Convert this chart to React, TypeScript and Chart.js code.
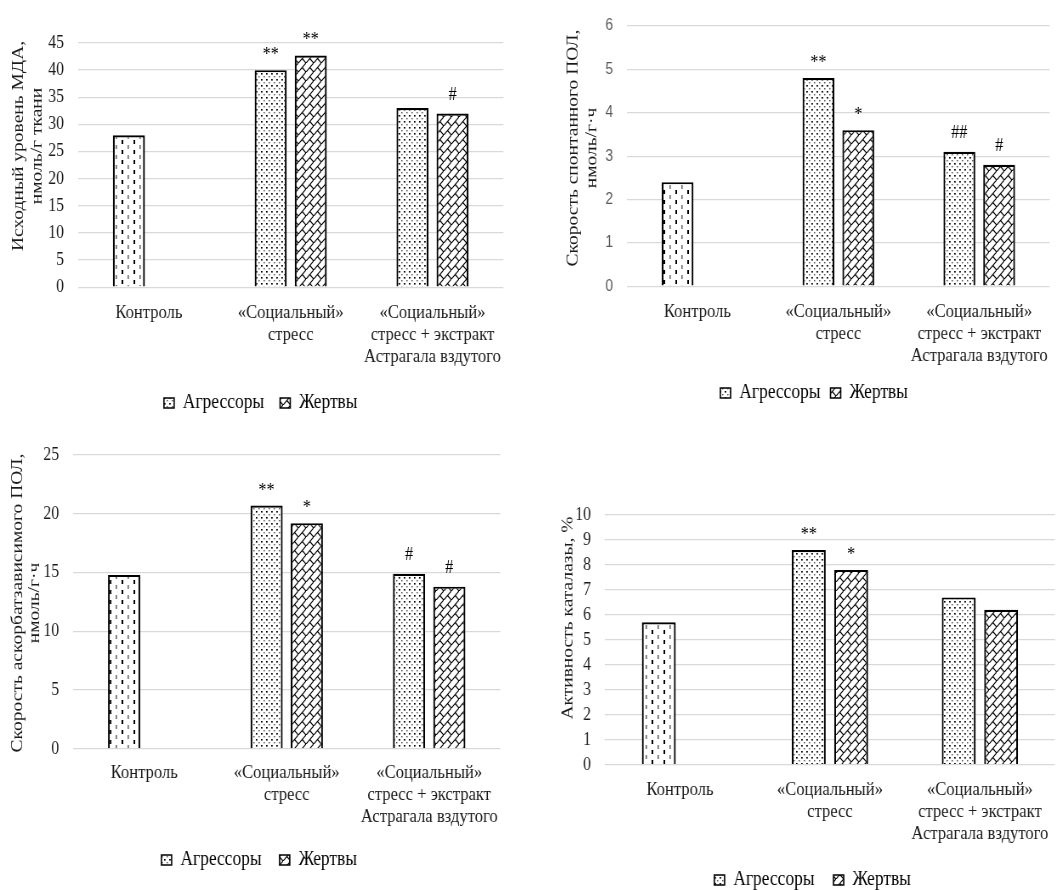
import React, { useEffect, useRef } from "react";
import { Chart, registerables } from "chart.js";

Chart.register(...registerables);

// ---------- DATA ----------
const categories: string[][] = [
  ["Контроль"],
  ["«Социальный»", "стресс"],
  ["«Социальный»", "стресс + экстракт", "Астрагала вздутого"],
];
const seriesNames = ["Агрессоры", "Жертвы"];

// Panel 1: initial MDA level
const mdaTitle = ["Исходный уровень МДА,", "нмоль/г ткани"];
const mdaAggressors = [28, 40, 33];
const mdaVictims = [null, 42.7, 32];
const mdaMarksAggressors = ["", "**", ""];
const mdaMarksVictims = ["", "**", "#"];
const mdaTicks = { max: 45, step: 5 };

// Panel 2: spontaneous LPO rate
const sponTitle = ["Скорость спонтанного ПОЛ,", "нмоль/г·ч"];
const sponAggressors = [2.4, 4.8, 3.1];
const sponVictims = [null, 3.6, 2.8];
const sponMarksAggressors = ["", "**", "##"];
const sponMarksVictims = ["", "*", "#"];
const sponTicks = { max: 6, step: 1 };

// Panel 3: ascorbate-dependent LPO rate
const ascTitle = ["Скорость аскорбатзависимого ПОЛ,", "нмоль/г·ч"];
const ascAggressors = [14.8, 20.7, 14.9];
const ascVictims = [null, 19.2, 13.8];
const ascMarksAggressors = ["", "**", "#"];
const ascMarksVictims = ["", "*", "#"];
const ascTicks = { max: 25, step: 5 };

// Panel 4: catalase activity
const catTitle = ["Активность каталазы, %"];
const catAggressors = [5.7, 8.6, 6.7];
const catVictims = [null, 7.8, 6.2];
const catMarksAggressors = ["", "**", ""];
const catMarksVictims = ["", "*", ""];
const catTicks = { max: 10, step: 1 };

// horizontal squeeze of the original figure
const SQ = 0.85;

// ---------- PATTERNS ----------
function makeTile(w: number, h: number, draw: (c: CanvasRenderingContext2D) => void) {
  const cv = document.createElement("canvas");
  cv.width = w;
  cv.height = h;
  const c = cv.getContext("2d")!;
  c.fillStyle = "#ffffff";
  c.fillRect(0, 0, w, h);
  draw(c);
  return cv;
}

function makePatterns(ctx: CanvasRenderingContext2D) {
  const control = ctx.createPattern(
    makeTile(14, 10, (c) => {
      c.fillStyle = "#000000";
      c.fillRect(3, 0, 2, 4);
      c.fillStyle = "#6a6a6a";
      c.fillRect(10, 5, 1.6, 4);
    }),
    "repeat"
  )!;
  const dots = ctx.createPattern(
    makeTile(6, 6, (c) => {
      c.fillStyle = "#000000";
      c.fillRect(1, 1, 1.8, 1.6);
      c.fillStyle = "#555555";
      c.fillRect(4, 4, 1.5, 1.4);
    }),
    "repeat"
  )!;
  const brick = ctx.createPattern(
    makeTile(9, 9, (c) => {
      c.strokeStyle = "#000000";
      c.lineWidth = 1.2;
      c.beginPath();
      c.moveTo(-1, 10);
      c.lineTo(10, -1);
      c.moveTo(4.5, 4.5);
      c.lineTo(9, 9);
      c.stroke();
    }),
    "repeat"
  )!;
  return { control, dots, brick };
}

// ---------- PLUGINS ----------
const yTitlePlugin = {
  id: "yTitle",
  afterDraw(chart: any, _args: any, opts: any) {
    const ctx = chart.ctx as CanvasRenderingContext2D;
    ctx.save();
    ctx.font = opts.font;
    ctx.fillStyle = opts.color;
    ctx.textAlign = "center";
    ctx.textBaseline = "middle";
    (opts.lines as string[]).forEach((line, i) => {
      ctx.save();
      ctx.translate(opts.x[i], opts.y);
      ctx.rotate(-Math.PI / 2);
      ctx.fillText(line, 0, 0);
      ctx.restore();
    });
    ctx.restore();
  },
};

const marksPlugin = {
  id: "marks",
  afterDatasetsDraw(chart: any, _args: any, opts: any) {
    const ctx = chart.ctx as CanvasRenderingContext2D;
    ctx.save();
    ctx.font = opts.font;
    ctx.fillStyle = "#000000";
    ctx.textAlign = "center";
    ctx.textBaseline = "alphabetic";
    (opts.marks as string[][]).forEach((arr, di) => {
      const meta = chart.getDatasetMeta(di);
      arr.forEach((m, i) => {
        if (!m) return;
        const el = meta.data[i];
        if (!el) return;
        const off = m.includes("#") ? 14 : 10;
        ctx.fillText(m, el.x, el.y - off);
      });
    });
    ctx.restore();
  },
};

const SERIF = "'Liberation Serif', 'Times New Roman', serif";

interface PanelProps {
  left: number;
  top: number;
  width: number;
  height: number;
  aggressors: (number | null)[];
  victims: (number | null)[];
  marksA: string[];
  marksV: string[];
  ticks: { max: number; step: number };
  title: string[];
  titleX: number[];
  titleY: number;
  padding: { left: number; top: number; right: number; bottom: number };
  yWidth: number;
  xHeight: number;
  xPad: number;
  legendGap: number;
  sansTicks?: boolean;
}

function Panel(p: PanelProps) {
  const ref = useRef<HTMLCanvasElement>(null);
  const cw = Math.round(p.width / SQ);
  useEffect(() => {
    const canvas = ref.current!;
    const ctx = canvas.getContext("2d")!;
    const pats = makePatterns(ctx);
    const tickFont = p.sansTicks
      ? { family: "'Liberation Sans', Arial, sans-serif", size: 16 }
      : { family: SERIF, size: 18.5 };
    const chart = new Chart(ctx, {
      type: "bar",
      data: {
        labels: categories,
        datasets: [
          {
            label: seriesNames[0],
            data: p.aggressors as any,
            backgroundColor: [pats.control, pats.dots, pats.dots] as any,
            borderColor: "#000000",
            borderWidth: 2.2,
            categoryPercentage: 0.565,
            barPercentage: 0.8,
          },
          {
            label: seriesNames[1],
            data: p.victims as any,
            backgroundColor: pats.brick as any,
            borderColor: "#000000",
            borderWidth: 2.2,
            categoryPercentage: 0.565,
            barPercentage: 0.8,
          },
        ],
      },
      options: {
        responsive: false,
        animation: false,
        devicePixelRatio: 1,
        layout: {
          padding: {
            left: p.padding.left / SQ,
            right: p.padding.right / SQ,
            top: p.padding.top,
            bottom: p.padding.bottom,
          },
        },
        scales: {
          x: {
            grid: { display: false, drawTicks: false },
            border: { display: false },
            ticks: {
              autoSkip: false,
              maxRotation: 0,
              padding: p.xPad,
              color: "#1a1a1a",
              font: { family: SERIF, size: 19.5, lineHeight: "22px" as any },
            },
            afterFit: (scale: any) => {
              scale.height = p.xHeight;
            },
          },
          y: {
            min: 0,
            max: p.ticks.max,
            grid: { color: "#d9d9d9", lineWidth: 1.3, drawTicks: false },
            border: { display: false },
            ticks: {
              stepSize: p.ticks.step,
              autoSkip: false,
              padding: 14 / SQ,
              color: p.sansTicks ? "#595959" : "#1a1a1a",
              font: tickFont,
            },
            afterFit: (scale: any) => {
              scale.width = p.yWidth / SQ;
            },
          },
        },
        plugins: {
          legend: {
            position: "bottom",
            labels: {
              boxWidth: 12,
              boxHeight: 10,
              padding: p.legendGap / SQ,
              color: "#1a1a1a",
              font: { family: SERIF, size: 20.5 },
              generateLabels: () => [
                {
                  text: seriesNames[0],
                  fillStyle: pats.dots as any,
                  strokeStyle: "#000000",
                  lineWidth: 1.6,
                  datasetIndex: 0,
                  hidden: false,
                },
                {
                  text: seriesNames[1],
                  fillStyle: pats.brick as any,
                  strokeStyle: "#000000",
                  lineWidth: 1.6,
                  datasetIndex: 1,
                  hidden: false,
                },
              ],
            },
          },
          tooltip: { enabled: false },
          yTitle: {
            lines: p.title,
            x: p.titleX.map((v) => v / SQ),
            y: p.titleY,
            font: `19.5px ${SERIF}`,
            color: "#1a1a1a",
          },
          marks: {
            marks: [p.marksA, p.marksV],
            font: `19px ${SERIF}`,
          },
        } as any,
      },
      plugins: [yTitlePlugin, marksPlugin],
    });
    return () => chart.destroy();
  }, []);
  return (
    <canvas
      ref={ref}
      width={cw}
      height={p.height}
      style={{
        position: "absolute",
        left: p.left,
        top: p.top,
        width: cw,
        height: p.height,
        transform: `scaleX(${SQ})`,
        transformOrigin: "0 0",
      }}
    />
  );
}

export default function App() {
  return (
    <div
      style={{
        position: "absolute",
        left: 0,
        top: 0,
        width: 1061,
        height: 890,
        overflow: "hidden",
        background: "#ffffff",
      }}
    >
      <Panel
        left={0}
        top={0}
        width={530}
        height={420}
        aggressors={mdaAggressors}
        victims={mdaVictims}
        marksA={mdaMarksAggressors}
        marksV={mdaMarksVictims}
        ticks={mdaTicks}
        title={mdaTitle}
        titleX={[19, 37]}
        titleY={146}
        padding={{ left: 18, top: 43, right: 27, bottom: -3.25 }}
        yWidth={60}
        xHeight={86.75}
        xPad={15}
        legendGap={16}
      />
      <Panel
        left={530}
        top={0}
        width={531}
        height={420}
        aggressors={sponAggressors}
        victims={sponVictims}
        marksA={sponMarksAggressors}
        marksV={sponMarksVictims}
        ticks={sponTicks}
        title={sponTitle}
        titleX={[43, 62]}
        titleY={148}
        padding={{ left: 42, top: 21, right: 5, bottom: 6.75 }}
        yWidth={55}
        xHeight={84.75}
        xPad={15}
        legendGap={10}
        sansTicks
      />
      <Panel
        left={0}
        top={420}
        width={530}
        height={470}
        aggressors={ascAggressors}
        victims={ascVictims}
        marksA={ascMarksAggressors}
        marksV={ascMarksVictims}
        ticks={ascTicks}
        title={ascTitle}
        titleX={[18, 35]}
        titleY={183}
        padding={{ left: 18, top: 35, right: 30, bottom: 9.75 }}
        yWidth={55}
        xHeight={79.75}
        xPad={13}
        legendGap={18}
      />
      <Panel
        left={530}
        top={420}
        width={531}
        height={470}
        aggressors={catAggressors}
        victims={catVictims}
        marksA={catMarksAggressors}
        marksV={catMarksVictims}
        ticks={catTicks}
        title={catTitle}
        titleX={[38]}
        titleY={198}
        padding={{ left: 40, top: 95, right: 6, bottom: -10.25 }}
        yWidth={35}
        xHeight={82.75}
        xPad={14}
        legendGap={19}
      />
    </div>
  );
}
